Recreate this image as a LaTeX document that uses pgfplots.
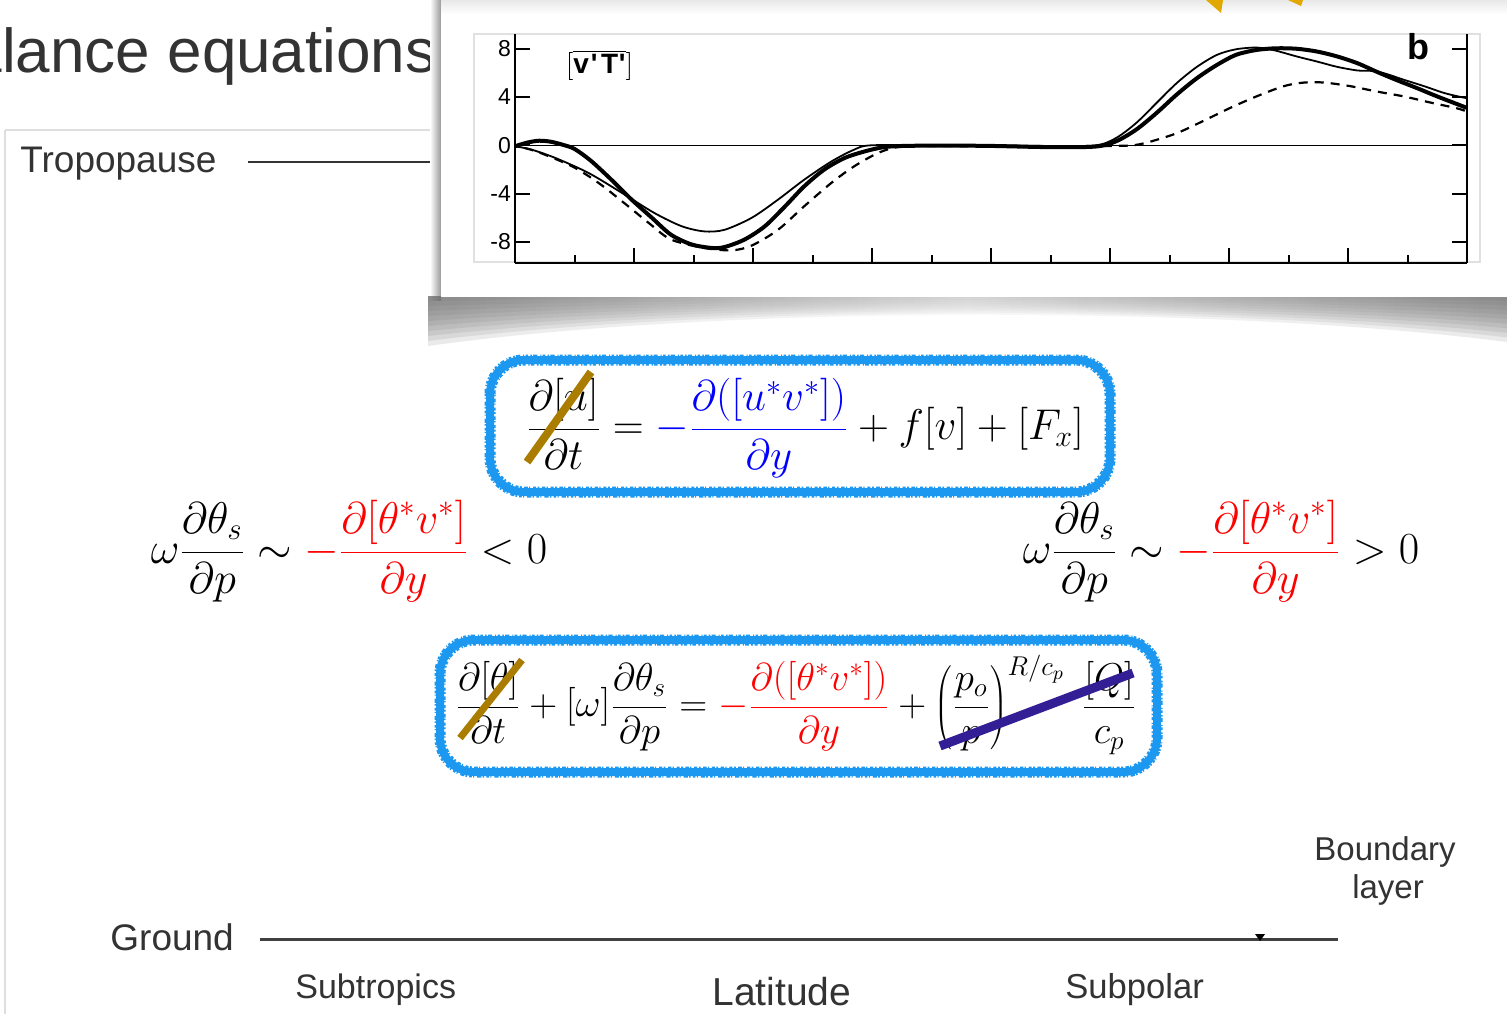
\RequirePackage{fix-cm}
\documentclass[border=0pt]{standalone}
\usepackage{pgfplots}
\pgfplotsset{compat=1.18}
\usepackage{pgfplotstable}
\usepackage{fontspec}
\newfontfamily\slide{Liberation Sans}

\definecolor{slidetext}{HTML}{333333}
\definecolor{chalkblue}{RGB}{28,152,240}
\definecolor{strikegold}{RGB}{170,124,0}
\definecolor{strikepurple}{RGB}{52,30,150}
\definecolor{sungold}{RGB}{224,168,0}

\pgfdeclarehorizontalshading{curlshadow}{100bp}{color(0bp)=(black!95); color(22bp)=(black!62); color(50bp)=(black!20); color(78bp)=(black!62); color(100bp)=(black!95)}

% eddy heat flux [v'T'] against latitude, three runs
\pgfplotstableread{
x y
0 -0.08
1 0.22
2 0.38
3 0.30
4 0.05
5 -0.30
6.4 -1.30
8.1 -2.85
9.8 -4.50
11.5 -6.00
13.1 -7.40
14.8 -8.20
16.5 -8.50
17.6 -8.43
19.3 -7.80
21.0 -6.70
22.7 -5.05
24.3 -3.40
26.0 -2.00
27.7 -1.05
29.4 -0.50
31.0 -0.15
32.7 -0.05
36 -0.02
40 -0.05
45 -0.15
48.8 -0.10
50.5 0.33
52.2 1.30
53.9 2.67
55.6 4.20
57.3 5.56
59.0 6.67
60.6 7.50
62.3 7.90
64.0 8.04
65.7 8.00
67.4 7.77
69.1 7.36
70.8 6.80
72.4 6.10
74.1 5.40
75.8 4.74
77.5 4.05
80 3.10
}\thickrun

\pgfplotstableread{
x y
0 -0.08
1.4 -0.36
3.4 -1.05
6.2 -2.30
9.0 -3.95
11.7 -5.60
14.0 -6.70
15.9 -7.13
17.6 -7.00
19.9 -6.00
22.1 -4.50
24.3 -2.85
26.6 -1.33
28.5 -0.36
29.9 0
35 0
40 0
45 -0.05
48.8 0
50.5 0.60
52.2 1.85
53.9 3.50
55.6 5.15
57.3 6.50
59.0 7.50
60.6 7.96
62.3 8.10
63.7 7.90
65.7 7.36
67.4 6.94
69.1 6.50
70.8 6.20
71.9 6.17
73.0 5.98
74.7 5.43
76.4 4.90
78.1 4.33
79.5 4.00
80 3.90
}\thinrun

\pgfplotstableread{
x y
0.8 -0.22
2 -0.58
4.8 -1.74
7.0 -3.10
9.2 -4.80
11.2 -6.40
13.1 -7.80
15.9 -8.50
18.2 -8.70
19.9 -8.30
22.1 -7.00
24.3 -5.05
26.6 -3.10
28.5 -1.74
30.5 -0.64
32.2 -0.14
35 -0.05
40 -0.10
45 -0.15
50 -0.05
51.9 0
53.3 0.28
55.6 1.00
57.8 2.00
60.1 3.10
62.3 4.05
64.6 4.90
66.3 5.20
68.0 5.20
70.2 4.90
72.4 4.46
74.7 4.05
76.9 3.55
79.1 3.08
80 2.80
}\dashrun

% hand-drawn looking rounded frame: solid stroke plus broken edges
\newcommand{\chalkbox}[4]{%
  \draw[chalkblue, line width=4pt, rounded corners=17pt] (#1,#2) rectangle (#3,#4);
  \draw[chalkblue, line width=1pt, rounded corners=19pt,
        dash pattern=on 1.3pt off 0.7pt on 0.5pt off 1.5pt on 2.1pt off 0.6pt on 0.8pt off 1.1pt]
        ({#1-4.5},{#2-4.5}) rectangle ({#3+4.5},{#4+4.5});
  \draw[chalkblue, line width=1pt, rounded corners=15pt,
        dash pattern=on 0.9pt off 1.2pt on 1.8pt off 0.6pt on 0.6pt off 1.4pt on 1.5pt off 0.8pt]
        ({#1+4.5},{#2+4.5}) rectangle ({#3-4.5},{#4-4.5});
}

\begin{document}
\begin{tikzpicture}
\path[use as bounding box] (0,0) rectangle (753.5pt,-506.5pt);
\clip (0,0) rectangle (753.5pt,-506.5pt);
\fill[white] (0,0) rectangle (753.5pt,-506.5pt);

\begin{scope}[x=0.5pt,y=-0.5pt]
  % slide frame
  \draw[black!13, line width=0.6pt] (5,130) -- (445,130);
  \draw[black!13, line width=0.6pt] (5,130) -- (5,1020);
  % slide title
  \node[anchor=base west, inner sep=0, text=slidetext, font=\fontsize{31}{36}\selectfont\slide] at (-74,72) {Balance equations};
  % tropopause
  \node[anchor=base west, inner sep=0, text=slidetext, font=\fontsize{18.5}{22}\selectfont\slide] at (20,172) {Tropopause};
  \draw[slidetext, line width=1.4pt] (248,162) -- (445,162);

  % inset card with its shadows
  \shade[left color=white, right color=black!40] (430,0) rectangle (441,300);
  \foreach \k in {1,...,10} {
    \shade[shading=curlshadow, opacity=0.14]
      (428,296) -- (428,{296+5*\k}) .. controls (720,{296+0.9*\k}) and (1220,{296+0.9*\k}) .. (1507,{296+4.6*\k}) -- (1507,296) -- cycle;
  }
  \fill[white] (441,0) rectangle (1510,297);
  \shade[top color=black!9, bottom color=white] (441,0) rectangle (1510,14);
  \fill[sungold] (1206,0) -- (1223,0) -- (1221,13) -- cycle;
  \fill[sungold] (1288,0) -- (1303,0) -- (1301,6) -- cycle;
  \draw[black!12, line width=0.6pt] (474,34) rectangle (1480,262);
\end{scope}

\begin{axis}[
  at={(257.5pt,-131.5pt)}, anchor=south west,
  scale only axis, width=476pt, height=114.65pt,
  xmin=0, xmax=80, ymin=-9.75, ymax=9.25,
  axis x line=bottom, axis y line=box,
  axis line style={-, line width=1.2pt, black},
  xtick={10,20,...,80}, minor xtick={5,15,...,75}, xticklabels={},
  ytick={-8,-4,0,4,8},
  tick align=inside,
  major tick length=7.5pt, minor tick length=3.8pt,
  every tick/.style={black, line width=1pt},
  /pgf/number format/assume math mode=true,
  yticklabel style={font=\fontsize{11.5}{12}\selectfont\slide, xshift=1.5pt},
  clip=false,
]
  \addplot[black, line width=0.7pt] coordinates {(0,0) (80,0)};
  \addplot[black, line width=0.9pt, smooth] table {\thinrun};
  \addplot[black, line width=1.1pt, smooth, dash pattern=on 4.5pt off 3.5pt] table {\dashrun};
  \addplot[black, line width=2pt, smooth] table {\thickrun};
  \node[font=\fontsize{14}{16}\selectfont] at (axis cs:7.1,6.6)
    {$\bigl[\overline{\hbox{\slide\bfseries v\kern1pt\textquotesingle\kern1.8pt T\kern0.3pt\textquotesingle}}\bigr]$};
  \node[font=\fontsize{18}{20}\selectfont\slide\bfseries] at (axis cs:75.9,8.2) {b};
\end{axis}

\begin{scope}[x=0.5pt,y=-0.5pt]
  % zonal momentum budget
  \chalkbox{490}{360}{1110}{492}
  \node[font=\fontsize{21.5}{25}\selectfont] at (805,428)
    {$\displaystyle \frac{\partial[u]}{\partial t} = {\color{blue}-\frac{\partial([u^*v^*])}{\partial y}} + f[v] + [F_x]$};
  \draw[strikegold, line width=4pt] (527,462) -- (591,372);

  % thermodynamic balance at each latitude band
  \node[font=\fontsize{22.2}{26}\selectfont] at (349,551)
    {$\displaystyle \omega\frac{\partial\theta_s}{\partial p} \sim {\color{red}-\frac{\partial[\theta^*v^*]}{\partial y}} < 0$};
  \node[font=\fontsize{22.2}{26}\selectfont] at (1221,551)
    {$\displaystyle \omega\frac{\partial\theta_s}{\partial p} \sim {\color{red}-\frac{\partial[\theta^*v^*]}{\partial y}} > 0$};

  % zonal-mean thermodynamic equation
  \chalkbox{440}{640}{1157}{772}
  \node[font=\fontsize{19.4}{23}\selectfont] at (796,705)
    {$\displaystyle \frac{\partial[\theta]}{\partial t} + [\omega]\frac{\partial\theta_s}{\partial p} = {\color{red}-\frac{\partial([\theta^*v^*])}{\partial y}} + \left(\frac{p_o}{p}\right)^{R/c_p}\;\frac{[Q]}{c_p}$};
  \draw[strikegold, line width=3.5pt] (460,738) -- (522,660);
  \draw[strikepurple, line width=4.5pt] (940,746) -- (1133,673);

  % ground and latitude labels
  \node[anchor=base west, inner sep=0, text=slidetext, font=\fontsize{18.5}{22}\selectfont\slide] at (110,950) {Ground};
  \draw[black!75, line width=1.5pt] (260,939) -- (1338,939);
  \fill[black] (1255,934) -- (1265,934) -- (1260,941) -- cycle;
  \node[anchor=base west, inner sep=0, text=slidetext, font=\fontsize{17}{20}\selectfont\slide] at (295,998) {Subtropics};
  \node[anchor=base west, inner sep=0, text=slidetext, font=\fontsize{19.5}{22}\selectfont\slide] at (712,1005) {Latitude};
  \node[anchor=base west, inner sep=0, text=slidetext, font=\fontsize{17.3}{20}\selectfont\slide] at (1065,998) {Subpolar};
  \node[anchor=base, inner sep=0, text=slidetext, font=\fontsize{16.5}{20}\selectfont\slide] at (1385,860) {Boundary};
  \node[anchor=base, inner sep=0, text=slidetext, font=\fontsize{16.5}{20}\selectfont\slide] at (1388,898) {layer};
\end{scope}
\end{tikzpicture}
\end{document}
